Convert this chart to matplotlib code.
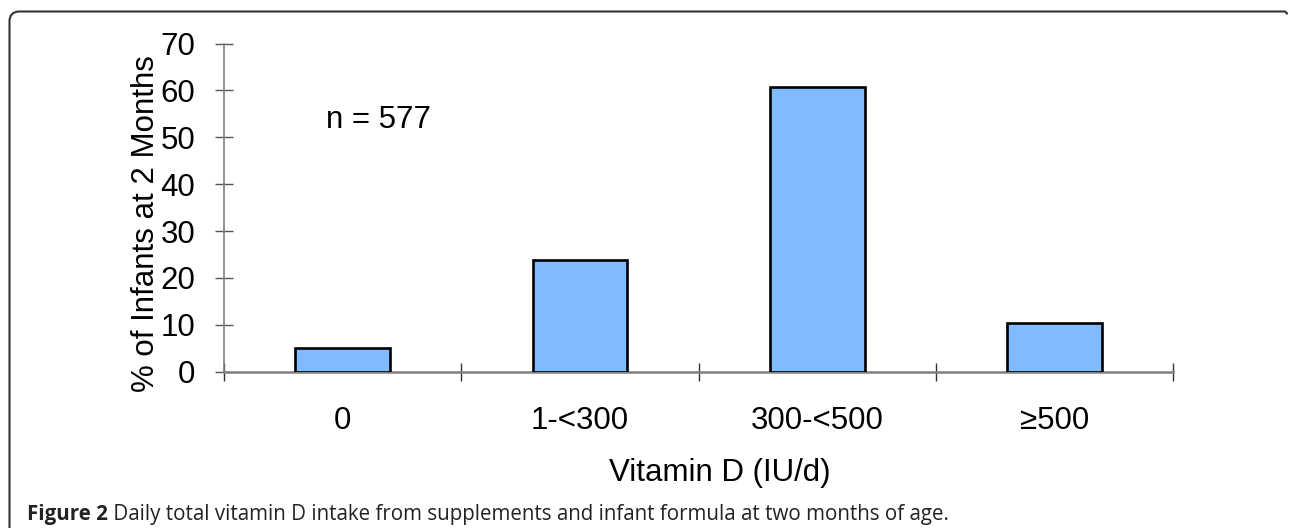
import matplotlib
matplotlib.use("Agg")
import matplotlib.pyplot as plt
from matplotlib.path import Path
from matplotlib.patches import PathPatch

categories = ["0", "1-<300", "300-<500", "\u2265500"]
percent_infants = [5.0, 23.8, 60.8, 10.3]
yticks = [0, 10, 20, 30, 40, 50, 60, 70]
annotation = "n = 577"
xlabel = "Vitamin D (IU/d)"
ylabel = "% of Infants at 2 Months"
caption_bold = "Figure 2"
caption_text = " Daily total vitamin D intake from supplements and infant formula at two months of age."

W, H = 1290, 528
fig = plt.figure(figsize=(W / 100, H / 100), dpi=100)
plt.rcParams['font.family'] = ['Liberation Sans', 'DejaVu Sans']
FS = 22.5

ax = fig.add_axes([224 / W, 1 - 371.7 / H, (1173.3 - 224) / W, (371.7 - 43.5) / H])
x = list(range(len(categories)))
ax.bar(x, percent_infants, width=0.40, color="#80BAFF", edgecolor="black",
       linewidth=1.9, zorder=3)
ax.set_xlim(-0.5, len(categories) - 0.5)
ax.set_ylim(0, 70)
ax.set_yticks(yticks)
ax.set_xticks([i - 0.5 for i in range(len(categories) + 1)])
ax.set_xticklabels([])
ax.set_xticks(x, minor=True)
ax.set_xticklabels(categories, minor=True)

for s in ["top", "right"]:
    ax.spines[s].set_visible(False)
ax.spines["left"].set_color("#808080")
ax.spines["left"].set_linewidth(1.2)
ax.spines["bottom"].set_color("#808080")
ax.spines["bottom"].set_linewidth(1.8)

ax.tick_params(axis="y", which="major", direction="inout", length=13.5, width=1.0,
               color="#555555", labelsize=FS, pad=14, labelcolor="black")
ax.tick_params(axis="x", which="major", direction="inout", length=13.5, width=1.0,
               color="#333333")
ax.tick_params(axis="x", which="minor", length=0, labelsize=FS, pad=25)

ax.set_xlabel(xlabel, fontsize=FS)
ax.xaxis.set_label_coords((720 - 224) / (1173.3 - 224), -0.262)
ax.set_ylabel(ylabel, fontsize=FS)
ax.yaxis.set_label_coords((161 - 224) / (1173.3 - 224), 0.45)

ax.text(0.149, 53.7, annotation, fontsize=FS, ha="center", va="center")

# caption
CFS = 14.8
t1 = fig.text(27 / W, 1 - 520 / H, caption_bold, fontsize=CFS, fontweight="bold",
              family=["Open Sans", "DejaVu Sans"], color="#222222", va="baseline")
fig.canvas.draw()
bb = t1.get_window_extent()
fig.text(bb.x1 / W, 1 - 520 / H, caption_text, fontsize=CFS,
         family=["Open Sans", "DejaVu Sans"], color="#222222", va="baseline")

# frame border (rounded top-left, open bottom)
r = 10
xl, yt, xr = 9.5, 11.5, 1287
verts = [(xl, H), (xl, yt + r), (xl, yt), (xl + r, yt), (xr - 3, yt), (xr, yt), (xr, yt + 3)]
codes = [Path.MOVETO, Path.LINETO, Path.CURVE3, Path.CURVE3, Path.LINETO, Path.CURVE3, Path.CURVE3]
verts = [(vx / W, 1 - vy / H) for vx, vy in verts]
fig.patches.append(PathPatch(Path(verts, codes), transform=fig.transFigure,
                             fill=False, edgecolor="#333333", linewidth=1.5))

fig.savefig("out.png", dpi=100)
